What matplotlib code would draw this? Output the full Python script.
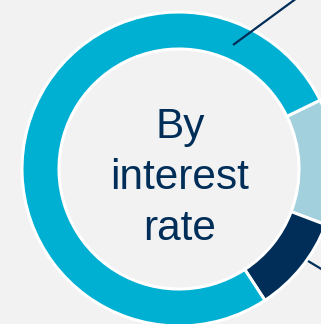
import matplotlib.pyplot as plt

# Share of portfolio by interest rate type
segments = ["Light", "Navy", "Blue"]
shares = [13, 10, 77]
colors = ["#A2D1DD", "#002E58", "#00B0D2"]
center_label = "By\ninterest\nrate"

bg = "#F2F2F2"
navy = "#002E58"

fig = plt.figure(figsize=(3.21, 3.24), dpi=100, facecolor=bg)
ax = fig.add_axes([0, 0, 1, 1])
ax.set_facecolor(bg)

cx, cy = 179, 324 - 169
ax.pie(
    shares,
    colors=colors,
    startangle=26,
    counterclock=False,
    center=(cx, cy),
    radius=157,
    wedgeprops=dict(width=37, edgecolor="white", linewidth=2.2),
    frame=True,
)
ax.set_xlim(0, 321)
ax.set_ylim(0, 324)
ax.set_aspect("equal")
ax.axis("off")

# leader lines
ax.plot([233, 297], [324 - 45, 324 + 2], color=navy, lw=1.6, solid_capstyle="butt")
ax.plot([308, 323], [324 - 261, 324 - 270], color=navy, lw=1.6, solid_capstyle="butt")

ax.text(cx + 1, 324 - 178, center_label, ha="center", va="center",
        fontsize=30.5, color=navy, family="Liberation Sans", linespacing=1.36)

fig.savefig("out.png", dpi=100, facecolor=bg)
